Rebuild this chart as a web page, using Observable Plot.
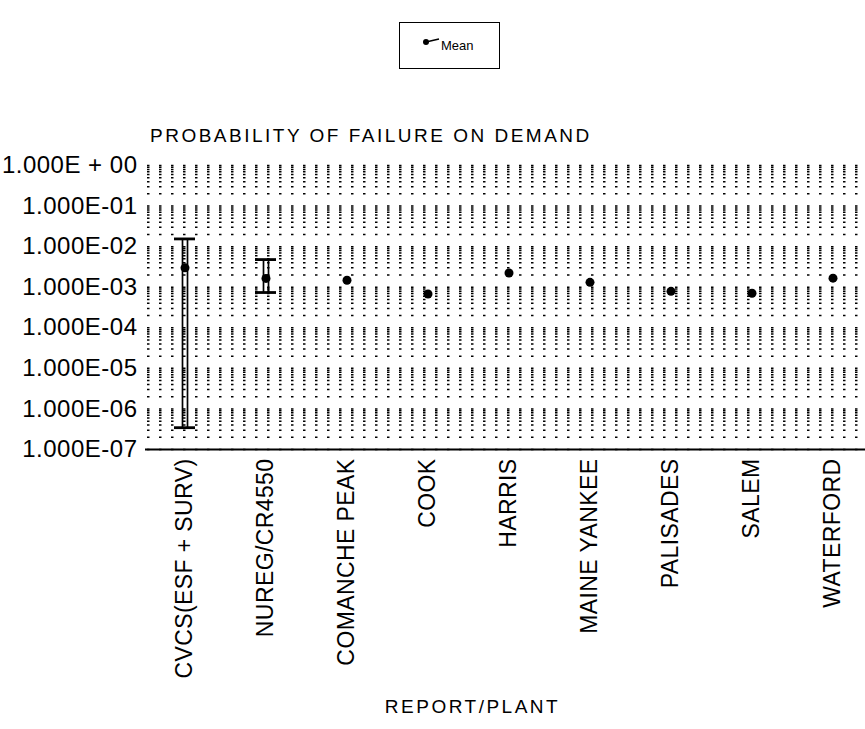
<!DOCTYPE html>
<html>
<head>
<meta charset="utf-8">
<script src="https://cdn.jsdelivr.net/npm/d3@7"></script>
<script src="https://cdn.jsdelivr.net/npm/@observablehq/plot@0.6"></script>
<style>
  body { margin: 0; background: #fff; }
  #wrap { position: relative; width: 865px; height: 729px; overflow: hidden; font-family: "Liberation Sans", Arial, sans-serif; color: #000; background: #fff; }
  #legend { position: absolute; left: 399px; top: 22px; width: 101px; height: 47px; border: 1px solid #000; box-sizing: border-box; }
  #title { position: absolute; left: 150px; top: 126px; font-size: 19px; line-height: 19px; letter-spacing: 2.5px; white-space: nowrap; }
  #chart { position: absolute; left: 0; top: 150px; }
</style>
</head>
<body>
<div id="wrap">
  <div id="legend">
    <svg width="99" height="45" style="position:absolute;left:0;top:0">
      <line x1="26" y1="19" x2="39" y2="16" stroke="#000" stroke-width="1.5"></line>
      <circle cx="26" cy="19" r="3" fill="#000"></circle>
      <text x="41" y="27" font-size="13" font-family="Liberation Sans, Arial, sans-serif" fill="#000">Mean</text>
    </svg>
  </div>
  <div id="title">PROBABILITY OF FAILURE ON DEMAND</div>
  <div id="chart"></div>
</div>
<script>
// ---- data ----
const categories = ["CVCS(ESF + SURV)", "NUREG/CR4550", "COMANCHE PEAK", "COOK", "HARRIS", "MAINE YANKEE", "PALISADES", "SALEM", "WATERFORD"];
const means = [3.0e-3, 1.65e-3, 1.48e-3, 6.8e-4, 2.24e-3, 1.32e-3, 7.9e-4, 7.1e-4, 1.67e-3];
const lows  = [3.45e-7, 7.4e-4, null, null, null, null, null, null, null];
const highs = [1.55e-2, 4.8e-3, null, null, null, null, null, null, null];
const yTicks = [1e-7, 1e-6, 1e-5, 1e-4, 1e-3, 1e-2, 1e-1, 1];
const yTickLabels = ["1.000E-07", "1.000E-06", "1.000E-05", "1.000E-04", "1.000E-03", "1.000E-02", "1.000E-01", "1.000E + 00"];
const xAxisLabel = "REPORT/PLANT";

const data = categories.map((c, i) => ({cat: c, mean: means[i], low: lows[i], high: highs[i]}));
const bars = data.filter(d => d.low != null);

// minor log gridlines (1..9 x each decade)
const gridValues = [];
for (let k = 0; k < yTicks.length - 1; k++) {
  for (let m = 1; m <= 9; m++) gridValues.push(m * yTicks[k]);
}
gridValues.push(yTicks[yTicks.length - 1]);

const chart = Plot.plot({
  width: 865,
  height: 579,
  marginTop: 15,
  marginBottom: 280,
  marginLeft: 145,
  marginRight: 0,
  style: {fontFamily: "Liberation Sans, Arial, sans-serif", background: "transparent", color: "#000"},
  x: {type: "band", domain: categories, range: [144, 873], padding: 0},
  y: {type: "log", domain: [1e-7, 1]},
  marks: [
    Plot.ruleY(gridValues, {stroke: "#000", strokeWidth: 1.5, strokeDasharray: "2.5,9.5", strokeDashoffset: -2}),
    Plot.ruleY([1e-7], {stroke: "#000", strokeWidth: 1.8}),
    Plot.ruleX(bars, {x: "cat", y1: "low", y2: "high", dx: -2.5, stroke: "#000", strokeWidth: 1.7}),
    Plot.ruleX(bars, {x: "cat", y1: "low", y2: "high", dx: 2.5, stroke: "#000", strokeWidth: 1.7}),
    Plot.tickY(bars, {x: "cat", y: "high", insetLeft: 30, insetRight: 30, stroke: "#000", strokeWidth: 2.8}),
    Plot.tickY(bars, {x: "cat", y: "low", insetLeft: 30, insetRight: 30, stroke: "#000", strokeWidth: 2.8}),
    Plot.dot(data, {x: "cat", y: "mean", r: 4.5, fill: "#000", stroke: "none"}),
    Plot.axisY({ticks: yTicks, tickFormat: d => yTickLabels[yTicks.indexOf(d)], tickSize: 0, tickPadding: 8, fontSize: 24, label: null}),
    Plot.axisX({tickRotate: -90, tickSize: 0, tickPadding: 9, fontSize: 23, label: null}),
    Plot.text([xAxisLabel], {text: d => d, frameAnchor: "bottom", dx: -33, dy: 263, fontSize: 19, fill: "#000"})
  ]
});
document.getElementById("chart").appendChild(chart);

// letter spacing to mimic the wide typewriter-like lettering
const svg = d3.select(chart);
svg.selectAll("text").each(function() {
  const t = this.textContent;
  if (t === xAxisLabel) d3.select(this).style("letter-spacing", "2.5px");
  else if (yTickLabels.includes(t)) d3.select(this).style("letter-spacing", "0.5px");
  else if (categories.includes(t)) d3.select(this).style("letter-spacing", "0.4px");
});
</script>
</body>
</html>
